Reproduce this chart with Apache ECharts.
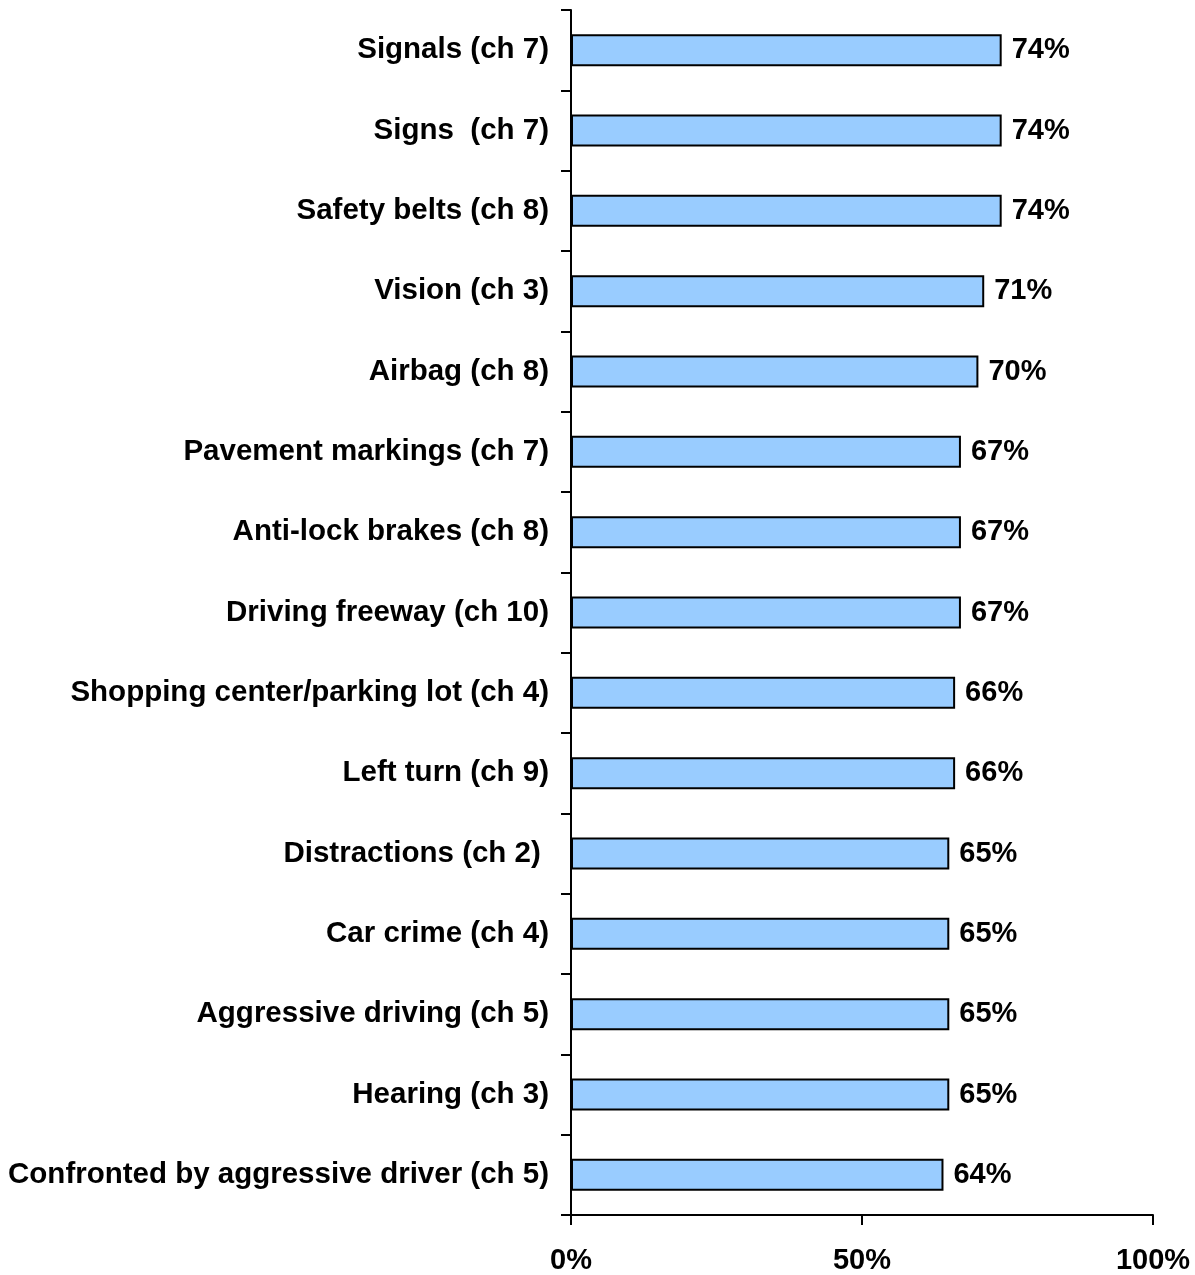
<!DOCTYPE html>
<html>
<head>
<meta charset="utf-8">
<script src="https://cdn.jsdelivr.net/npm/echarts@6/dist/echarts.min.js"></script>
<style>
  html, body { margin: 0; padding: 0; background: #ffffff; }
  #chart { width: 1195px; height: 1275px; }
</style>
</head>
<body>
<div id="chart"></div>
<script>
// Topics, listed top to bottom
const categories = [
  'Signals (ch 7)',
  'Signs  (ch 7)',
  'Safety belts (ch 8)',
  'Vision (ch 3)',
  'Airbag (ch 8)',
  'Pavement markings (ch 7)',
  'Anti-lock brakes (ch 8)',
  'Driving freeway (ch 10)',
  'Shopping center/parking lot (ch 4)',
  'Left turn (ch 9)',
  'Distractions (ch 2) ',
  'Car crime (ch 4)',
  'Aggressive driving (ch 5)',
  'Hearing (ch 3)',
  'Confronted by aggressive driver (ch 5)'
];

// Percentage per topic
const percentages = [74, 74, 74, 71, 70, 67, 67, 67, 66, 66, 65, 65, 65, 65, 64];

// Value axis tick values
const xTicks = [0, 50, 100];

const FONT = 'Liberation Sans, Arial, sans-serif';

const chart = echarts.init(document.getElementById('chart'), null, { renderer: 'canvas' });

chart.setOption({
  backgroundColor: '#ffffff',
  animation: false,
  grid: { left: 571, right: 42, top: 10, bottom: 59, containLabel: false },
  xAxis: {
    type: 'value',
    min: xTicks[0],
    max: xTicks[xTicks.length - 1],
    interval: xTicks[1] - xTicks[0],
    axisLine: { show: true, lineStyle: { color: '#000', width: 2 } },
    axisTick: { show: true, inside: false, length: 10, lineStyle: { color: '#000', width: 2 } },
    splitLine: { show: false },
    axisLabel: {
      margin: 31,
      color: '#000',
      fontFamily: FONT,
      fontWeight: 'bold',
      fontSize: 29,
      formatter: v => v + '%'
    }
  },
  yAxis: {
    type: 'category',
    inverse: true,
    data: categories,
    boundaryGap: true,
    axisLine: { show: true, lineStyle: { color: '#000', width: 2 } },
    axisTick: { show: true, inside: false, length: 10, alignWithLabel: false, lineStyle: { color: '#000', width: 2 } },
    splitLine: { show: false },
    axisLabel: {
      margin: 22,
      color: '#000',
      fontFamily: FONT,
      fontWeight: 'bold',
      fontSize: 29.5
    }
  },
  series: [{
    type: 'bar',
    data: percentages,
    barWidth: 32,
    itemStyle: { color: '#99CCFF', borderColor: '#000', borderWidth: 2 },
    label: {
      show: true,
      position: 'right',
      distance: 10,
      color: '#000',
      fontFamily: FONT,
      fontWeight: 'bold',
      fontSize: 29,
      formatter: p => p.value + '%'
    }
  }]
});
</script>
</body>
</html>
